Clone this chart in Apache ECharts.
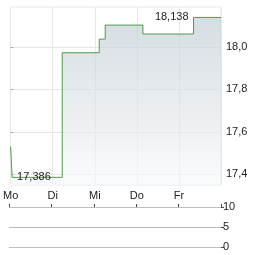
<!DOCTYPE html>
<html>
<head>
<meta charset="utf-8">
<script src="https://cdn.jsdelivr.net/npm/echarts@6/dist/echarts.min.js"></script>
<style>
  html, body { margin: 0; padding: 0; background: #fff; }
  #chart { width: 264px; height: 255px; }
</style>
</head>
<body>
<div id="chart"></div>
<script>
// Wochentage (x-Achse, 0..5 = Mo bis Ende Fr)
var days = ["Mo", "Di", "Mi", "Do", "Fr"];
// Zeitpunkte der Kursänderungen (in Tagen) und Kurse
var times = [0, 0.035, 1.226, 2.106, 2.248, 3.144, 4.347, 5];
var prices = [17.53, 17.386, 17.972, 18.036, 18.102, 18.06, 18.138, 18.138];
var priceTicks = [17.4, 17.6, 17.8, 18.0];
var volumeTicks = [0, 5, 10];
var volumes = [];

var chart = echarts.init(document.getElementById("chart"));

var font = "Liberation Sans, Arial, sans-serif";
var lineData = times.map(function (t, i) {
  return [t, prices[i]];
});

var option = {
  animation: false,
  grid: [
    {
      left: 9,
      right: 43,
      top: 7,
      height: 178,
      show: true,
      borderColor: "#e6e6e6",
      borderWidth: 1,
    },
    {
      left: 9,
      right: 43,
      top: 207,
      height: 40,
    },
  ],
  xAxis: [
    {
      type: "value",
      gridIndex: 0,
      min: 0,
      max: 5,
      interval: 1,
      axisLine: { show: false },
      axisTick: { show: false },
      splitLine: { show: true, lineStyle: { color: "#e6e6e6", width: 1 } },
      axisLabel: {
        margin: 5,
        fontSize: 11,
        fontFamily: font,
        color: "#222",
        formatter: function (v) {
          return days[v] || "";
        },
      },
    },
    {
      type: "value",
      gridIndex: 1,
      position: "top",
      min: 0,
      max: 5,
      interval: 1,
      axisLine: { show: false, onZero: false },
      axisTick: { show: true, inside: false, length: 3, lineStyle: { color: "#444" } },
      axisLabel: { show: false },
      splitLine: { show: false },
    },
  ],
  yAxis: [
    {
      type: "value",
      gridIndex: 0,
      position: "right",
      min: 17.35,
      max: 18.187,
      axisLine: { show: false },
      axisTick: {
        show: true,
        length: 3,
        customValues: priceTicks,
        lineStyle: { color: "#aaa" },
      },
      splitLine: { show: true, lineStyle: { color: "#e6e6e6", width: 1 } },
      axisLabel: {
        margin: 5,
        fontSize: 11,
        fontFamily: font,
        color: "#222",
        customValues: priceTicks,
        formatter: function (v) {
          return v.toFixed(1).replace(".", ",");
        },
      },
    },
    {
      type: "value",
      gridIndex: 1,
      position: "right",
      min: 0,
      max: 10,
      interval: 5,
      axisLine: { show: false, onZero: false },
      axisTick: {
        show: true,
        length: 3,
        customValues: volumeTicks,
        lineStyle: { color: "#444" },
      },
      splitLine: { show: true, lineStyle: { color: "#bdbdbd", width: 1 } },
      axisLabel: {
        margin: 2,
        fontSize: 11,
        fontFamily: font,
        color: "#222",
        customValues: volumeTicks,
      },
    },
  ],
  series: [
    {
      type: "line",
      xAxisIndex: 0,
      yAxisIndex: 0,
      step: "end",
      data: lineData,
      symbol: "none",
      lineStyle: { color: "#4a9e4a", width: 1 },
      areaStyle: {
        origin: "start",
        color: new echarts.graphic.LinearGradient(0, 0, 0, 1, [
          { offset: 0, color: "#c3ced6" },
          { offset: 1, color: "#f8f9fa" },
        ]),
      },
      markPoint: {
        symbol: "circle",
        symbolSize: 0,
        data: [
          {
            coord: [4.347, 18.138],
            value: "18,138",
            label: { position: "left", distance: 5 },
          },
          {
            coord: [0.035, 17.386],
            value: "17,386",
            label: { position: "right", distance: 5 },
          },
        ],
        label: {
          show: true,
          fontSize: 11,
          fontFamily: font,
          color: "#222",
          formatter: function (p) {
            return p.value;
          },
        },
      },
    },
    {
      type: "bar",
      xAxisIndex: 1,
      yAxisIndex: 1,
      data: volumes,
    },
  ],
};

chart.setOption(option);
</script>
</body>
</html>
